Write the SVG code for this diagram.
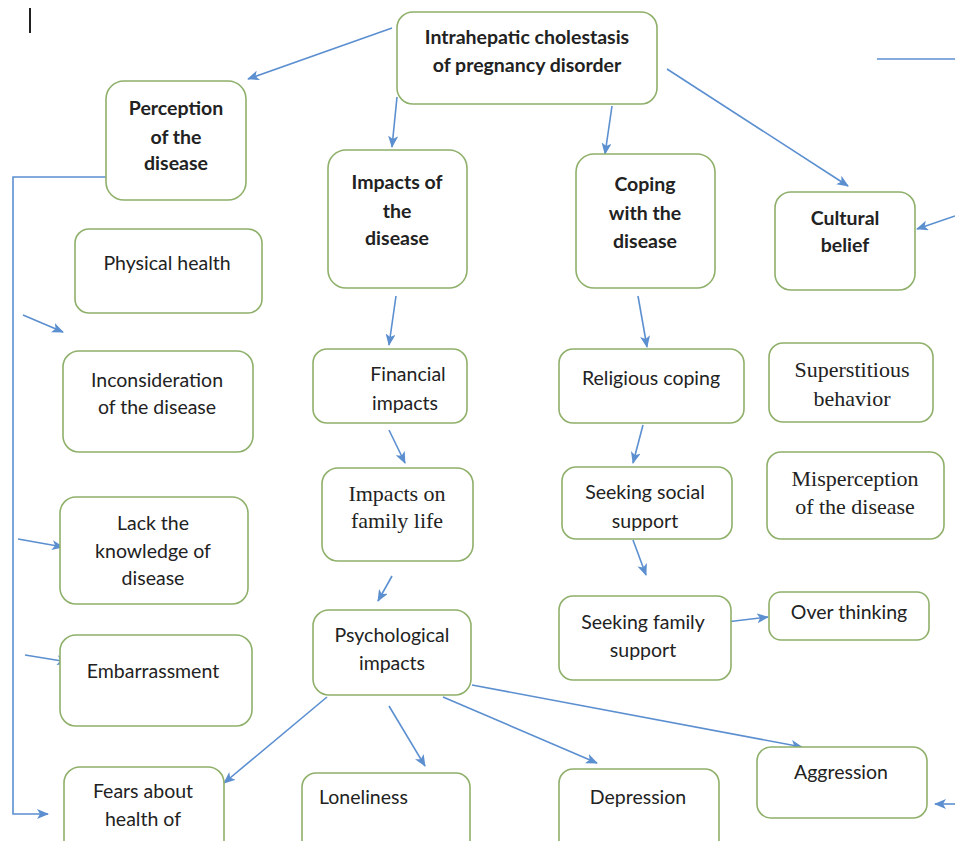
<svg xmlns="http://www.w3.org/2000/svg" width="955" height="841" viewBox="0 0 955 841">
<style>
.box{fill:#fff;stroke:#8fb06a;stroke-width:1.6}
.t{font-family:Lato,"Liberation Sans",sans-serif;font-size:19.5px;fill:#222;text-anchor:middle}
.b{font-weight:bold}
.s{font-family:"Liberation Serif",serif;font-size:22px}
.c{fill:none;stroke:#5b8fd0;stroke-width:1.6}
</style>
<defs>
<marker id="ah" markerWidth="12" markerHeight="10" refX="11" refY="5" orient="auto" markerUnits="userSpaceOnUse">
<path d="M0,0 L12,5 L0,10 L3,5 Z" fill="#5b8fd0"/>
</marker>
</defs>
<rect width="955" height="841" fill="#fff"/>
<line x1="30" y1="8" x2="30" y2="33" stroke="#222" stroke-width="2"/>
<g id="connectors">
<line class="c" x1="392" y1="28" x2="248" y2="79" marker-end="url(#ah)"/>
<line class="c" x1="397" y1="97" x2="392" y2="147" marker-end="url(#ah)"/>
<line class="c" x1="612" y1="106" x2="605" y2="154" marker-end="url(#ah)"/>
<line class="c" x1="667" y1="69" x2="848" y2="186" marker-end="url(#ah)"/>
<line class="c" x1="877" y1="59" x2="955" y2="59"/>
<line class="c" x1="955" y1="216" x2="917" y2="229" marker-end="url(#ah)"/>
<polyline class="c" points="106,177 13,177 13,814 48,814" marker-end="url(#ah)"/>
<line class="c" x1="23" y1="315" x2="63" y2="332" marker-end="url(#ah)"/>
<line class="c" x1="18" y1="539" x2="63" y2="547" marker-end="url(#ah)"/>
<line class="c" x1="25" y1="655" x2="68" y2="662" marker-end="url(#ah)"/>
<line class="c" x1="396" y1="296" x2="389" y2="345" marker-end="url(#ah)"/>
<line class="c" x1="389" y1="430" x2="405" y2="463" marker-end="url(#ah)"/>
<line class="c" x1="392" y1="576" x2="378" y2="601" marker-end="url(#ah)"/>
<line class="c" x1="327" y1="697" x2="224" y2="783" marker-end="url(#ah)"/>
<line class="c" x1="389" y1="706" x2="425" y2="766" marker-end="url(#ah)"/>
<line class="c" x1="443" y1="697" x2="597" y2="763" marker-end="url(#ah)"/>
<line class="c" x1="472" y1="685" x2="802" y2="747" marker-end="url(#ah)"/>
<line class="c" x1="955" y1="804" x2="935" y2="804" marker-end="url(#ah)"/>
<line class="c" x1="638" y1="296" x2="647" y2="347" marker-end="url(#ah)"/>
<line class="c" x1="643" y1="425" x2="633" y2="463" marker-end="url(#ah)"/>
<line class="c" x1="633" y1="540" x2="646" y2="575" marker-end="url(#ah)"/>
<line class="c" x1="726" y1="622" x2="768" y2="617" marker-end="url(#ah)"/>
</g>
<g id="n-root"><rect class="box" x="397" y="12" width="260" height="92" rx="16"/>
<text class="t b" x="527" y="44">Intrahepatic cholestasis</text>
<text class="t b" x="527" y="72">of pregnancy disorder</text></g>
<g id="n-perception"><rect class="box" x="106" y="81" width="140" height="119" rx="18"/>
<text class="t b" x="176" y="115">Perception</text>
<text class="t b" x="176" y="144">of the</text>
<text class="t b" x="176" y="170">disease</text></g>
<g id="n-impacts"><rect class="box" x="328" y="150" width="139" height="138" rx="18"/>
<text class="t b" x="397" y="189">Impacts of</text>
<text class="t b" x="397" y="218">the</text>
<text class="t b" x="397" y="245">disease</text></g>
<g id="n-coping"><rect class="box" x="576" y="154" width="139" height="134" rx="18"/>
<text class="t b" x="645" y="191">Coping</text>
<text class="t b" x="645" y="220">with the</text>
<text class="t b" x="645" y="248">disease</text></g>
<g id="n-cultural"><rect class="box" x="775" y="192" width="140" height="98" rx="16"/>
<text class="t b" x="845" y="225">Cultural</text>
<text class="t b" x="845" y="252">belief</text></g>
<g id="n-physical"><rect class="box" x="75" y="229" width="187" height="84" rx="14"/>
<text class="t" x="167" y="270">Physical health</text></g>
<g id="n-incons"><rect class="box" x="63" y="351" width="190" height="101" rx="16"/>
<text class="t" x="157" y="387">Inconsideration</text>
<text class="t" x="157" y="414">of the disease</text></g>
<g id="n-lack"><rect class="box" x="60" y="497" width="188" height="107" rx="16"/>
<text class="t" x="153" y="530">Lack the</text>
<text class="t" x="153" y="558">knowledge of</text>
<text class="t" x="153" y="585">disease</text></g>
<g id="n-embarr"><rect class="box" x="60" y="635" width="192" height="91" rx="16"/>
<text class="t" x="153" y="678">Embarrassment</text></g>
<g id="n-fears"><rect class="box" x="64" y="767" width="160" height="90" rx="16"/>
<text class="t" x="143" y="798">Fears about</text>
<text class="t" x="143" y="826">health of</text></g>
<g id="n-financial"><rect class="box" x="313" y="349" width="154" height="74" rx="14"/>
<text class="t" x="408" y="381">Financial</text>
<text class="t" x="405" y="410">impacts</text></g>
<g id="n-family"><rect class="box" x="322" y="468" width="151" height="93" rx="16"/>
<text class="t s" x="397" y="501">Impacts on</text>
<text class="t s" x="397" y="528">family life</text></g>
<g id="n-psych"><rect class="box" x="313" y="610" width="158" height="85" rx="16"/>
<text class="t" x="392" y="642">Psychological</text>
<text class="t" x="392" y="670">impacts</text></g>
<g id="n-loneliness"><rect class="box" x="302" y="773" width="168" height="84" rx="14"/>
<text class="t" x="319" y="804" style="text-anchor:start">Loneliness</text></g>
<g id="n-depression"><rect class="box" x="559" y="769" width="160" height="88" rx="14"/>
<text class="t" x="638" y="804">Depression</text></g>
<g id="n-aggression"><rect class="box" x="757" y="747" width="170" height="71" rx="14"/>
<text class="t" x="841" y="779">Aggression</text></g>
<g id="n-religious"><rect class="box" x="559" y="349" width="185" height="74" rx="14"/>
<text class="t" x="651" y="385">Religious coping</text></g>
<g id="n-social"><rect class="box" x="562" y="467" width="170" height="72" rx="14"/>
<text class="t" x="645" y="499">Seeking social</text>
<text class="t" x="645" y="528">support</text></g>
<g id="n-familysup"><rect class="box" x="559" y="596" width="172" height="84" rx="14"/>
<text class="t" x="643" y="629">Seeking family</text>
<text class="t" x="643" y="657">support</text></g>
<g id="n-over"><rect class="box" x="769" y="592" width="160" height="48" rx="12"/>
<text class="t" x="849" y="619">Over thinking</text></g>
<g id="n-supers"><rect class="box" x="769" y="343" width="164" height="79" rx="14"/>
<text class="t s" x="852" y="377">Superstitious</text>
<text class="t s" x="852" y="406">behavior</text></g>
<g id="n-misper"><rect class="box" x="767" y="452" width="177" height="87" rx="14"/>
<text class="t s" x="855" y="486">Misperception</text>
<text class="t s" x="855" y="514">of the disease</text></g>
</svg>
